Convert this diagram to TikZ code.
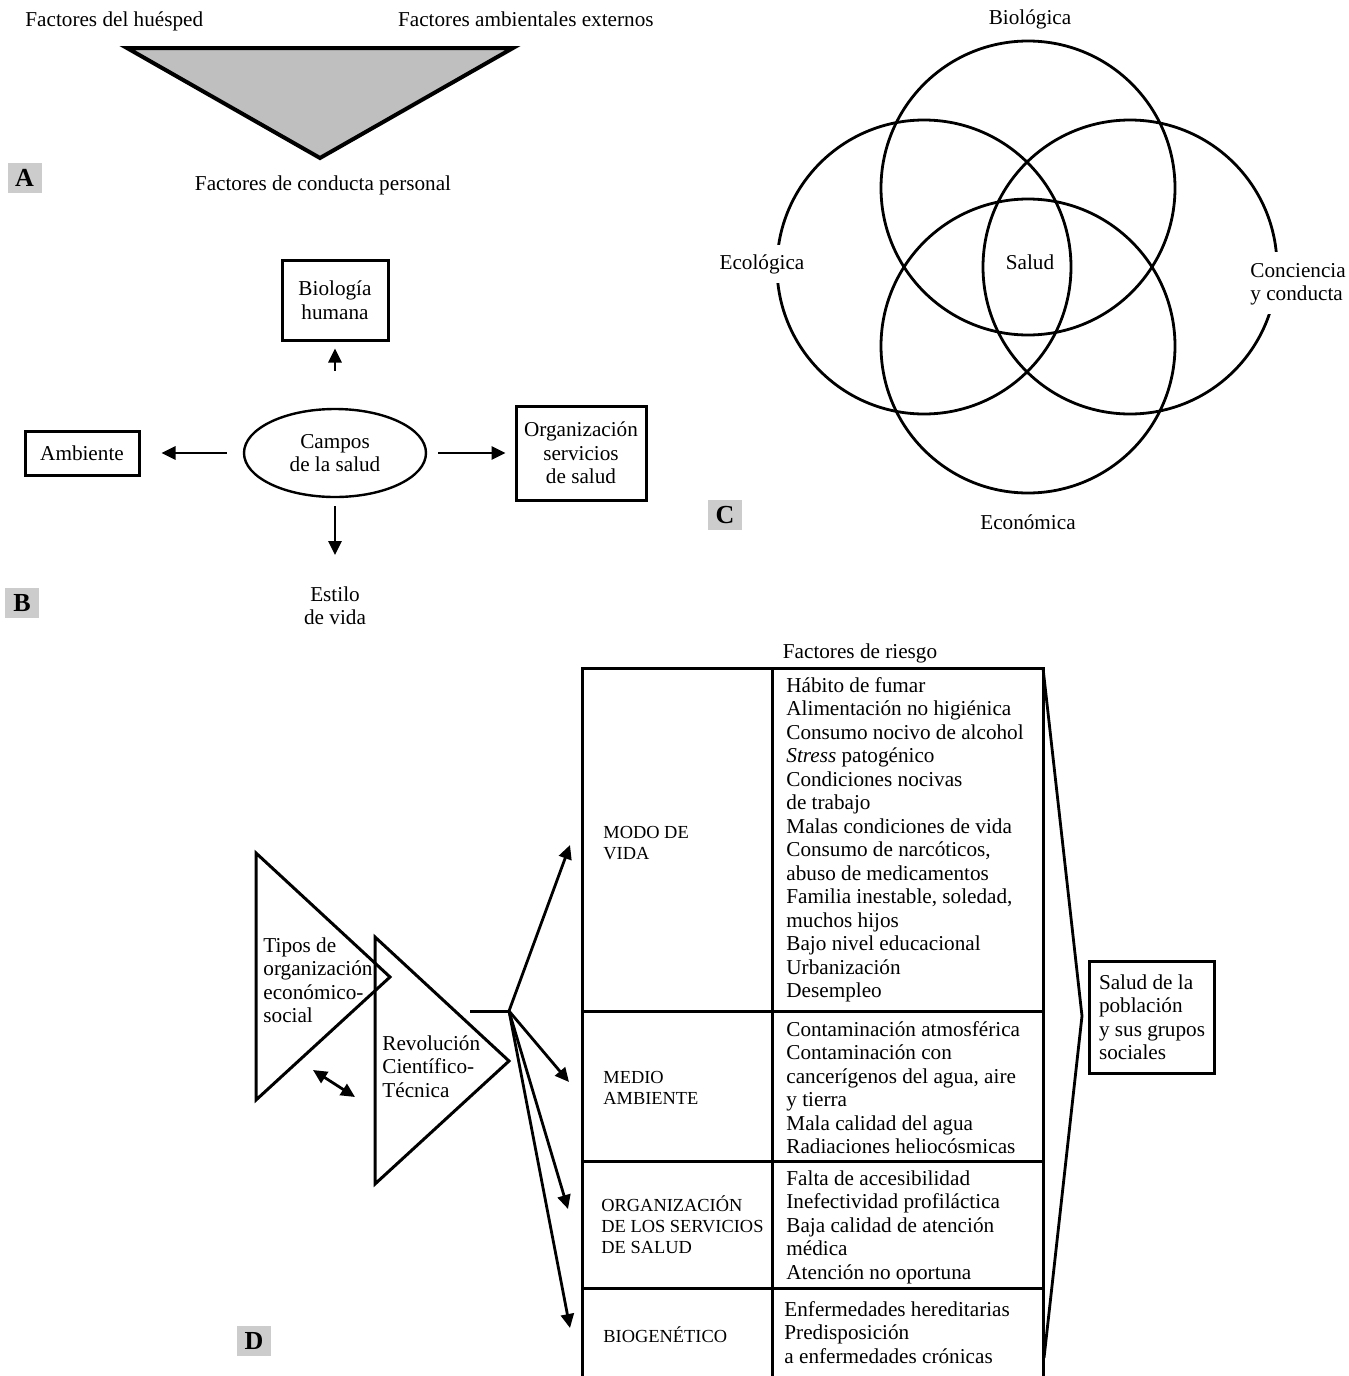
\documentclass[tikz,border=0pt]{standalone}
\usepackage{fontspec}
\setmainfont{Liberation Serif}
\usetikzlibrary{arrows.meta,shapes.geometric}
\definecolor{trigray}{gray}{0.75}
\definecolor{tabgray}{gray}{0.8}
\begin{document}
\begin{tikzpicture}[x=0.5pt,y=-0.5pt,
  every node/.style={inner sep=0pt, font=\fontsize{10.6}{11.75}\selectfont},
  lbl/.style={align=left},
  panel/.style={fill=tabgray, minimum width=17pt, minimum height=15pt,
    font=\fontsize{13}{15}\selectfont\bfseries},
  boxed/.style={draw, line width=1.5pt, align=center},
  rule/.style={line width=1.5pt},
  ring/.style={line width=1.4pt},
  arr/.style={line width=1.4pt, -{Triangle[length=7pt,width=6.5pt]}},
  darr/.style={line width=1.4pt, {Triangle[length=7pt,width=6.5pt]}-{Triangle[length=7pt,width=6.5pt]}},
  caps/.style={align=left, font=\fontsize{9.2}{10.5}\selectfont},
  gap/.style={fill=white, inner xsep=1pt, inner ysep=4.5pt},
]
\useasboundingbox (0,0) rectangle (1349,1376);

% ---------- A: host / environment / behaviour triangle ----------
\filldraw[fill=trigray, line width=2pt] (127,48) -- (513,48) -- (320,158) -- cycle;
\node[anchor=base west] (huesped) at (25,26) {Factores del huésped};
\node[anchor=base east] (ambext) at (654,26) {Factores ambientales externos};
\node[anchor=base] (conducta) at (323,190) {Factores de conducta personal};
\node[panel] (labA) at (24.5,178) {A};

% ---------- B: health fields ----------
\node[boxed, minimum width=53pt, minimum height=40pt] (bio) at (335,300) {Biología\\humana};
\node[draw, ellipse, line width=1.2pt, minimum width=91pt, minimum height=44pt, align=center]
  (campos) at (335,453) {Campos\\de la salud};
\node[boxed, minimum width=57pt, minimum height=22pt] (amb) at (82,453) {Ambiente};
\node[boxed, minimum width=65pt, minimum height=47pt] (org) at (581,453) {Organización\\servicios\\de salud};
\node[align=center, anchor=north] (estilo) at (335,584.5) {\strut Estilo\\de vida};
\draw[arr, shorten <=18.5pt, shorten >=3.5pt] (campos) -- (bio);
\draw[arr, shorten <=8pt, shorten >=10.5pt] (campos) -- (amb);
\draw[arr, shorten <=5.5pt, shorten >=4.5pt] (campos) -- (org);
\draw[arr, shorten <=4pt, shorten >=14.75pt] (campos) -- (estilo);
\node[panel] (labB) at (22,603) {B};

% ---------- C: four overlapping dimensions ----------
\draw[ring] (1028,188) circle[radius=147];
\draw[ring] (1028,346) circle[radius=147];
\draw[ring] (924,267) circle[radius=147];
\draw[ring] (1130,267) circle[radius=147];
\node[anchor=base] (biologica) at (1030,25) {Biológica};
\node[anchor=base, gap] (ecologica) at (762,269) {Ecológica};
\node[anchor=north west, align=left, gap] (conciencia) at (1248,251.5) {\strut Conciencia\\y conducta};
\node[anchor=base] (salud) at (1030,269) {Salud};
\node[anchor=base] (economica) at (1028,529) {Económica};
\node[panel] (labC) at (725,515) {C};

% ---------- D: risk factors ----------
\node[anchor=base] (riesgo) at (860,658) {Factores de riesgo};

% table frame
\draw[rule] (582,1376) -- (582,668) -- (1043,668) -- (1043,1376);
\draw[rule] (772,668) -- (772,1376);
\foreach \yy in {1011,1161,1288}
  \draw[rule] (582,\yy) -- (1043,\yy);

% row headings
\node[caps, anchor=north west] (modo) at (603,823.3) {\strut MODO DE\\VIDA};
\node[caps, anchor=north west] (medio) at (603,1068.3) {\strut MEDIO\\AMBIENTE};
\node[caps, anchor=north west] (orgserv) at (601,1195.3) {\strut ORGANIZACIÓN\\DE LOS SERVICIOS\\DE SALUD};
\node[caps, anchor=north west] (biogen) at (603,1326.3) {\strut BIOGENÉTICO};

% risk factor lists
\node[lbl, anchor=north west] (rmodo) at (786,675.5) {\strut Hábito de fumar\\
  Alimentación no higiénica\\
  Consumo nocivo de alcohol\\
  \textit{Stress} patogénico\\
  Condiciones nocivas\\
  de trabajo\\
  Malas condiciones de vida\\
  Consumo de narcóticos,\\
  abuso de medicamentos\\
  Familia inestable, soledad,\\
  muchos hijos\\
  Bajo nivel educacional\\
  Urbanización\\
  Desempleo};
\node[lbl, anchor=north west] (rmedio) at (786,1019.5) {\strut Contaminación atmosférica\\
  Contaminación con\\
  cancerígenos del agua, aire\\
  y tierra\\
  Mala calidad del agua\\
  Radiaciones heliocósmicas};
\node[lbl, anchor=north west] (rorg) at (786,1168.5) {\strut Falta de accesibilidad\\
  Inefectividad profiláctica\\
  Baja calidad de atención\\
  médica\\
  Atención no oportuna};
\node[lbl, anchor=north west] (rbio) at (784,1299.5) {\strut Enfermedades hereditarias\\
  Predisposición\\
  a enfermedades crónicas};

% converging bracket and outcome
\draw[ring] (1043,668) -- (1082,1016) -- (1044,1358);
\node[boxed, align=left, minimum width=62.5pt, minimum height=56pt] (poblacion) at (1152,1017)
  {Salud de la\\población\\y sus grupos\\sociales};

% socio-economic and scientific-technical triangles
\draw[rule] (256,853) -- (390,977) -- (256,1100) -- cycle;
\draw[rule] (375,937) -- (509,1061) -- (375,1184) -- cycle;
\node[lbl, anchor=north west] (tipos) at (263,935.5) {\strut Tipos de\\organización\\económico-\\social};
\node[lbl, anchor=north west] (revol) at (382,1033.5) {\strut Revolución\\Científico-\\Técnica};

\coordinate (da1) at (313,1070);
\coordinate (da2) at (355,1097);
\draw[darr] (da1) -- (da2);

% fan of arrows towards the four rows
\coordinate (stem) at (470,1011);
\coordinate (branch) at (509,1011);
\coordinate (toModo) at (570,845);
\coordinate (toMedio) at (569,1082);
\coordinate (toOrg) at (568,1209);
\coordinate (toBio) at (570,1328);
\draw[rule] (stem) -- (branch);
\draw[arr] (branch) -- (toModo);
\draw[arr] (branch) -- (toMedio);
\draw[arr] (branch) -- (toOrg);
\draw[arr] (branch) -- (toBio);

\node[panel] (labD) at (254,1341) {D};
\end{tikzpicture}
\end{document}
